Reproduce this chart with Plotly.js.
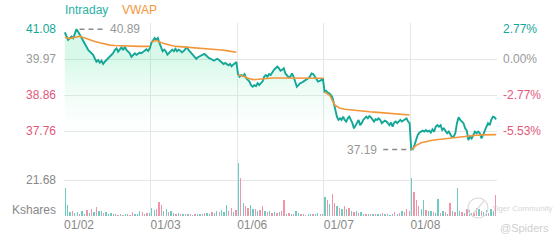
<!DOCTYPE html>
<html>
<head>
<meta charset="utf-8">
<script src="https://cdn.plot.ly/plotly-3.0.1.min.js"></script>
<style>html,body{margin:0;padding:0;background:#fff;}#chart{width:560px;height:240px;}</style>
</head>
<body>
<div id="chart"></div>
<script>
// ---------------- DATA ----------------
const dates = ['01/02', '01/03', '01/06', '01/07', '01/08'];
const prevClose = 39.97;
const priceTicks = [41.08, 39.97, 38.86, 37.76];
const pctLabels = ['2.77%', '0.00%', '-2.77%', '-5.53%'];
const volTick = 21.68;
const volUnit = 'Kshares';
const seriesNames = ['Intraday', 'VWAP'];

const price0102 = [40.79, 40.68, 40.56, 40.61, 40.66, 40.61, 40.76, 40.89, 40.81, 40.71, 40.61, 40.51, 40.40, 40.35, 40.25, 40.20, 40.15, 40.10, 39.99, 39.89, 39.94, 39.86, 39.92, 39.82, 39.89, 39.94, 39.99, 40.04, 40.10, 40.15, 40.25, 40.30, 40.20, 40.27, 40.33, 40.25, 40.35, 40.25, 40.20, 40.15, 40.04, 40.10, 40.15, 40.10, 40.15, 40.17, 40.15, 40.20, 40.25, 40.27, 40.22, 40.30];
const price0103 = [40.47, 40.57, 40.62, 40.57, 40.62, 40.47, 40.31, 40.21, 40.26, 40.21, 40.11, 40.16, 40.21, 40.26, 40.21, 40.29, 40.21, 40.26, 40.23, 40.18, 40.21, 40.26, 40.33, 40.26, 40.21, 40.16, 40.11, 40.03, 39.98, 40.03, 40.06, 40.09, 40.11, 40.13, 40.09, 40.03, 40.00, 39.98, 39.95, 39.92, 39.95, 39.98, 39.95, 39.90, 39.85, 39.82, 39.85, 39.80, 39.78, 39.82, 39.75, 39.80, 39.85, 39.88];
const price0106 = [39.51, 39.43, 39.48, 39.45, 39.51, 39.38, 39.33, 39.28, 39.17, 39.12, 39.17, 39.14, 39.23, 39.17, 39.23, 39.28, 39.43, 39.48, 39.43, 39.51, 39.48, 39.58, 39.64, 39.69, 39.74, 39.69, 39.61, 39.64, 39.69, 39.53, 39.48, 39.41, 39.43, 39.53, 39.43, 39.28, 39.12, 39.17, 39.23, 39.25, 39.28, 39.33, 39.35, 39.38, 39.43, 39.53, 39.51, 39.43, 39.38, 39.28, 39.30, 39.33, 39.35];
const price0107 = [38.97, 39.00, 38.94, 38.92, 38.87, 38.80, 38.61, 38.41, 38.20, 38.10, 38.15, 38.10, 38.20, 38.10, 38.05, 38.15, 38.20, 38.10, 38.00, 37.84, 37.94, 38.05, 38.10, 37.94, 38.00, 38.10, 38.15, 38.20, 38.15, 38.22, 38.18, 38.10, 38.05, 38.12, 38.10, 38.15, 38.10, 38.00, 38.05, 38.08, 38.05, 38.00, 37.94, 38.02, 37.89, 38.02, 38.05, 38.00, 38.05, 38.10, 38.05, 38.08, 38.12, 38.15, 38.05, 38.00];
const price0108 = [37.19, 37.20, 37.33, 37.48, 37.64, 37.71, 37.74, 37.77, 37.74, 37.79, 37.74, 37.77, 37.71, 37.81, 37.74, 37.89, 37.94, 37.89, 37.94, 37.79, 37.84, 37.74, 37.69, 37.74, 37.64, 37.57, 37.59, 37.69, 38.00, 38.18, 38.10, 38.05, 38.00, 37.84, 37.77, 37.48, 37.59, 37.53, 37.64, 37.74, 37.69, 37.74, 37.69, 37.53, 37.64, 37.74, 37.89, 38.00, 37.94, 38.10, 38.20, 38.18, 38.12];

const vwap0102 = [40.64, 40.60, 40.64, 40.67, 40.62, 40.56, 40.51, 40.47, 40.43, 40.40, 40.39, 40.38, 40.38, 40.37, 40.37, 40.36, 40.36, 40.36];
const vwap0103 = [40.50, 40.54, 40.47, 40.42, 40.39, 40.36, 40.35, 40.33, 40.32, 40.31, 40.30, 40.29, 40.28, 40.26, 40.25, 40.23, 40.21, 40.18];
const vwap0106 = [39.48, 39.45, 39.38, 39.34, 39.35, 39.37, 39.38, 39.39, 39.39, 39.39, 39.38, 39.38, 39.37, 39.37, 39.38, 39.38, 39.38, 39.38];
const vwap0107 = [38.96, 38.86, 38.56, 38.47, 38.43, 38.41, 38.39, 38.38, 38.36, 38.35, 38.34, 38.33, 38.32, 38.31, 38.30, 38.28, 38.27, 38.25];
const vwap0108 = [37.19, 37.32, 37.40, 37.44, 37.47, 37.49, 37.51, 37.53, 37.55, 37.57, 37.59, 37.61, 37.62, 37.63, 37.64, 37.64, 37.65, 37.65];

const vol0102 = [17.0, 6.6, 2.2, 3.0, 1.8, 2.5, 1.5, 2.8, 1.2, 3.5, 2.0, 4.0, 2.2, 5.6, 2.8, 3.2, 2.0, 2.5, 1.5, 1.8, 1.2, 1.0, 0.8, 1.2, 0.8, 1.0, 1.5, 0.8, 2.5, 1.2, 1.5, 2.8, 2.2, 1.5, 1.8, 2.0];
const vol0103 = [5.0, 3.5, 4.5, 8.2, 6.6, 3.0, 4.0, 2.5, 3.2, 2.0, 1.5, 1.8, 1.2, 1.0, 1.5, 1.0, 1.2, 0.8, 1.5, 1.0, 1.5, 1.2, 2.0, 1.8, 1.5, 2.5, 2.0, 3.0, 2.5, 3.5, 2.2, 6.6, 3.0, 4.8, 2.5, 3.5];
const vol0106 = [31.7, 22.7, 7.6, 6.0, 5.0, 6.5, 4.0, 4.5, 3.0, 3.5, 6.0, 3.0, 2.5, 3.0, 2.0, 2.5, 1.8, 2.5, 3.0, 9.6, 1.5, 2.0, 1.5, 1.0, 3.0, 1.8, 1.0, 1.5, 0.8, 1.2, 1.0, 1.5, 1.2, 2.0, 1.5, 1.0];
const vol0107 = [11.6, 9.9, 7.0, 13.3, 8.0, 6.0, 5.0, 4.0, 6.0, 4.0, 4.8, 3.0, 2.5, 3.0, 2.0, 2.5, 1.5, 1.5, 1.0, 1.2, 1.0, 1.5, 1.0, 1.2, 2.0, 1.5, 1.0, 0.8, 1.2, 2.5, 1.5, 2.0, 3.0, 2.5, 4.0, 3.0];
const vol0108 = [22.7, 14.6, 9.6, 6.0, 4.0, 9.6, 3.5, 3.0, 3.0, 2.5, 2.0, 10.2, 2.0, 3.0, 2.5, 1.5, 7.6, 3.0, 2.5, 17.0, 3.0, 2.5, 2.0, 4.0, 3.5, 2.0, 2.5, 5.0, 4.0, 3.0, 2.5, 3.5, 2.0, 4.0, 3.0, 12.6];

// 1 = up (teal), -1 = down (pink)
const dir0102 = [1, 1, 1, -1, 1, 1, -1, 1, 1, -1, 1, -1, 1, -1, 1, 1, -1, 1, 1, 1, -1, 1, -1, 1, -1, 1, 1, -1, -1, 1, 1, 1, -1, 1, -1, 1];
const dir0103 = [1, 1, -1, -1, -1, 1, 1, -1, 1, 1, -1, 1, -1, 1, -1, 1, -1, 1, -1, 1, 1, -1, -1, 1, 1, -1, 1, 1, -1, 1, 1, 1, -1, -1, 1, -1];
const dir0106 = [1, -1, 1, -1, -1, 1, 1, -1, 1, -1, -1, 1, -1, 1, -1, 1, -1, 1, -1, -1, 1, -1, 1, -1, 1, 1, -1, 1, -1, 1, 1, -1, 1, 1, -1, 1];
const dir0107 = [1, -1, 1, -1, -1, 1, -1, 1, -1, 1, -1, 1, -1, 1, -1, 1, 1, -1, 1, -1, 1, -1, 1, 1, -1, 1, -1, 1, 1, -1, 1, -1, 1, -1, -1, -1];
const dir0108 = [1, -1, -1, -1, 1, 1, -1, 1, 1, -1, 1, 1, -1, 1, -1, 1, -1, 1, -1, 1, 1, -1, 1, -1, 1, 1, -1, -1, 1, -1, 1, 1, -1, 1, 1, -1];

const priceDays = [price0102, price0103, price0106, price0107, price0108];
const vwapDays = [vwap0102, vwap0103, vwap0106, vwap0107, vwap0108];
const volDays = [vol0102, vol0103, vol0106, vol0107, vol0108];
const dirDays = [dir0102, dir0103, dir0106, dir0107, dir0108];

// ---------------- STYLE / LAYOUT ----------------
const W = 560, H = 240, ML = 64, MR = 63, MT = 23, MB = 24;
const PW = W - ML - MR, PH = H - MT - MB;
const TEAL = '#13a798', ORANGE = '#f3963a', PINK = '#e2577a', GRAY = '#999999', GRID = '#e6e6e6';
const FONT = 'Liberation Sans, Arial, sans-serif';

// price axis: top tick at the top edge, 108 px between first and last tick
const priceTop = Math.max(...priceTicks), priceLowTick = Math.min(...priceTicks);
const pxPerPrice = 108 / (priceTop - priceLowTick);
const priceBottom = priceTop - PH / pxPerPrice;
// volume axis: gridline 36 px above bottom
const volTop = volTick * PH / 36;

// build x positions
const px = [], py = [], vx = [], vy = [], bx = [], by = [], bc = [];
priceDays.forEach((arr, d) => arr.forEach((v, i) => { px.push(d + (i + 0.5) / arr.length); py.push(v); }));
vwapDays.forEach((arr, d) => {
  arr.forEach((v, i) => { vx.push(d + 0.01 + 0.98 * i / (arr.length - 1)); vy.push(v); });
  vx.push(null); vy.push(null);
});
volDays.forEach((arr, d) => arr.forEach((v, i) => {
  bx.push(d + (i + 0.5) / arr.length); by.push(v);
  bc.push(dirDays[d][i] > 0 ? 'rgba(60,185,172,0.75)' : 'rgba(238,120,148,0.8)');
}));

const hi = Math.max(...py), lo = Math.min(...py);
const hiX = px[py.indexOf(hi)], loX = px[py.indexOf(lo)];

const traces = [
  {
    x: px, y: py, type: 'scatter', mode: 'lines', name: seriesNames[0],
    line: { color: TEAL, width: 1.9 },
    fill: 'tozeroy',
    fillgradient: {
      type: 'vertical', start: priceLowTick - 0.6, stop: prevClose,
      colorscale: [[0, 'rgba(255,255,255,0)'], [1, 'rgba(60,225,150,0.2)']]
    },
    hoverinfo: 'skip', xaxis: 'x', yaxis: 'y'
  },
  {
    x: vx, y: vy, type: 'scatter', mode: 'lines', name: seriesNames[1],
    line: { color: ORANGE, width: 1.6 }, connectgaps: false,
    hoverinfo: 'skip', xaxis: 'x', yaxis: 'y'
  },
  {
    x: bx, y: by, type: 'bar', marker: { color: bc, line: { width: 0 } },
    width: 0.55 / 36, hoverinfo: 'skip', xaxis: 'x', yaxis: 'y2'
  }
];

const colorFor = v => v > prevClose ? TEAL : (v < prevClose ? PINK : GRAY);
const ann = [];
priceTicks.forEach((v, i) => {
  const top = v === priceTop;
  ann.push({ xref: 'paper', yref: 'y', x: 0, y: v, xanchor: 'right', yanchor: 'middle', xshift: -6,
    yshift: top ? -6 : 0, text: v.toFixed(2), showarrow: false, font: { family: FONT, size: 12, color: colorFor(v) } });
  ann.push({ xref: 'paper', yref: 'y', x: 1, y: v, xanchor: 'left', yanchor: 'middle', xshift: 4,
    yshift: top ? -6 : 0, text: pctLabels[i], showarrow: false, font: { family: FONT, size: 12, color: colorFor(v) } });
});
ann.push({ xref: 'paper', yref: 'y2', x: 0, y: volTick, xanchor: 'right', yanchor: 'middle', xshift: -6,
  text: volTick.toFixed(2), showarrow: false, font: { family: FONT, size: 12, color: '#888' } });
ann.push({ xref: 'paper', yref: 'y2', x: 0, y: 0, xanchor: 'right', yanchor: 'middle', xshift: -6, yshift: 6,
  text: volUnit, showarrow: false, font: { family: FONT, size: 12, color: '#888' } });
// legend texts
ann.push({ xref: 'paper', yref: 'paper', x: 0, y: 1, xanchor: 'left', yanchor: 'middle', yshift: 13, xshift: -1,
  text: seriesNames[0], showarrow: false, font: { family: FONT, size: 12, color: '#2ab0a4' } });
ann.push({ xref: 'paper', yref: 'paper', x: 0, y: 1, xanchor: 'left', yanchor: 'middle', yshift: 13, xshift: 56,
  text: seriesNames[1], showarrow: false, font: { family: FONT, size: 12, color: ORANGE } });
// high / low labels
ann.push({ xref: 'x', yref: 'y', x: hiX, y: hi, xanchor: 'left', yanchor: 'middle', xshift: 32,
  text: hi.toFixed(2), showarrow: false, font: { family: FONT, size: 12, color: '#999' } });
ann.push({ xref: 'x', yref: 'y', x: loX, y: lo, xanchor: 'right', yanchor: 'middle', xshift: -32,
  text: lo.toFixed(2), showarrow: false, font: { family: FONT, size: 12, color: '#999' } });
// watermark
const pxToPaperX = p => (p - ML) / PW, pxToPaperY = p => (H - MB - p) / PH;
ann.push({ xref: 'paper', yref: 'paper', x: pxToPaperX(490), y: pxToPaperY(208), xanchor: 'left', yanchor: 'middle',
  text: 'Tiger Community', showarrow: false, font: { family: FONT, size: 8, color: '#d6d6d6' } });
ann.push({ xref: 'paper', yref: 'paper', x: pxToPaperX(551), y: pxToPaperY(228), xanchor: 'right', yanchor: 'middle',
  text: '@Spiders', showarrow: false, font: { family: FONT, size: 11, color: '#cfcfcf' } });

const shapes = [
  { type: 'line', xref: 'x', yref: 'y', xsizemode: 'pixel', xanchor: hiX, x0: 3, x1: 28, y0: hi, y1: hi,
    line: { color: '#8c8c8c', width: 1.5, dash: '5px,4px' } },
  { type: 'line', xref: 'x', yref: 'y', xsizemode: 'pixel', xanchor: loX, x0: -28, x1: -1, y0: lo, y1: lo,
    line: { color: '#8c8c8c', width: 1.5, dash: '5px,4px' } },
  { type: 'circle', xref: 'paper', yref: 'paper', x0: pxToPaperX(468), x1: pxToPaperX(488),
    y0: pxToPaperY(218), y1: pxToPaperY(198), line: { color: '#dcdcdc', width: 1.2 } },
  { type: 'line', xref: 'paper', yref: 'paper', x0: pxToPaperX(473), x1: pxToPaperX(484),
    y0: pxToPaperY(214), y1: pxToPaperY(201), line: { color: '#dcdcdc', width: 1.2 } }
];

const layout = {
  width: W, height: H,
  margin: { l: ML, r: MR, t: MT, b: MB, pad: 0 },
  paper_bgcolor: '#fff', plot_bgcolor: '#fff',
  showlegend: false, bargap: 0,
  font: { family: FONT, size: 12, color: '#888' },
  xaxis: {
    range: [0, dates.length], tickvals: [0, 1, 2, 3, 4, 5], ticktext: dates.concat(['']),
    showgrid: true, gridcolor: GRID, gridwidth: 1, zeroline: false, showline: false, ticks: '',
    ticklabelposition: 'outside right', tickfont: { family: FONT, size: 12, color: '#888' }, fixedrange: true
  },
  yaxis: {
    range: [priceBottom, priceTop], tickvals: priceTicks, showticklabels: false,
    showgrid: true, gridcolor: GRID, zeroline: false, ticks: '', fixedrange: true
  },
  yaxis2: {
    overlaying: 'y', range: [0, volTop], tickvals: [volTick], showticklabels: false,
    showgrid: true, gridcolor: GRID, zeroline: false, ticks: '', fixedrange: true
  },
  annotations: ann, shapes: shapes
};

Plotly.newPlot('chart', traces, layout, { staticPlot: true, displayModeBar: false });
</script>
</body>
</html>
